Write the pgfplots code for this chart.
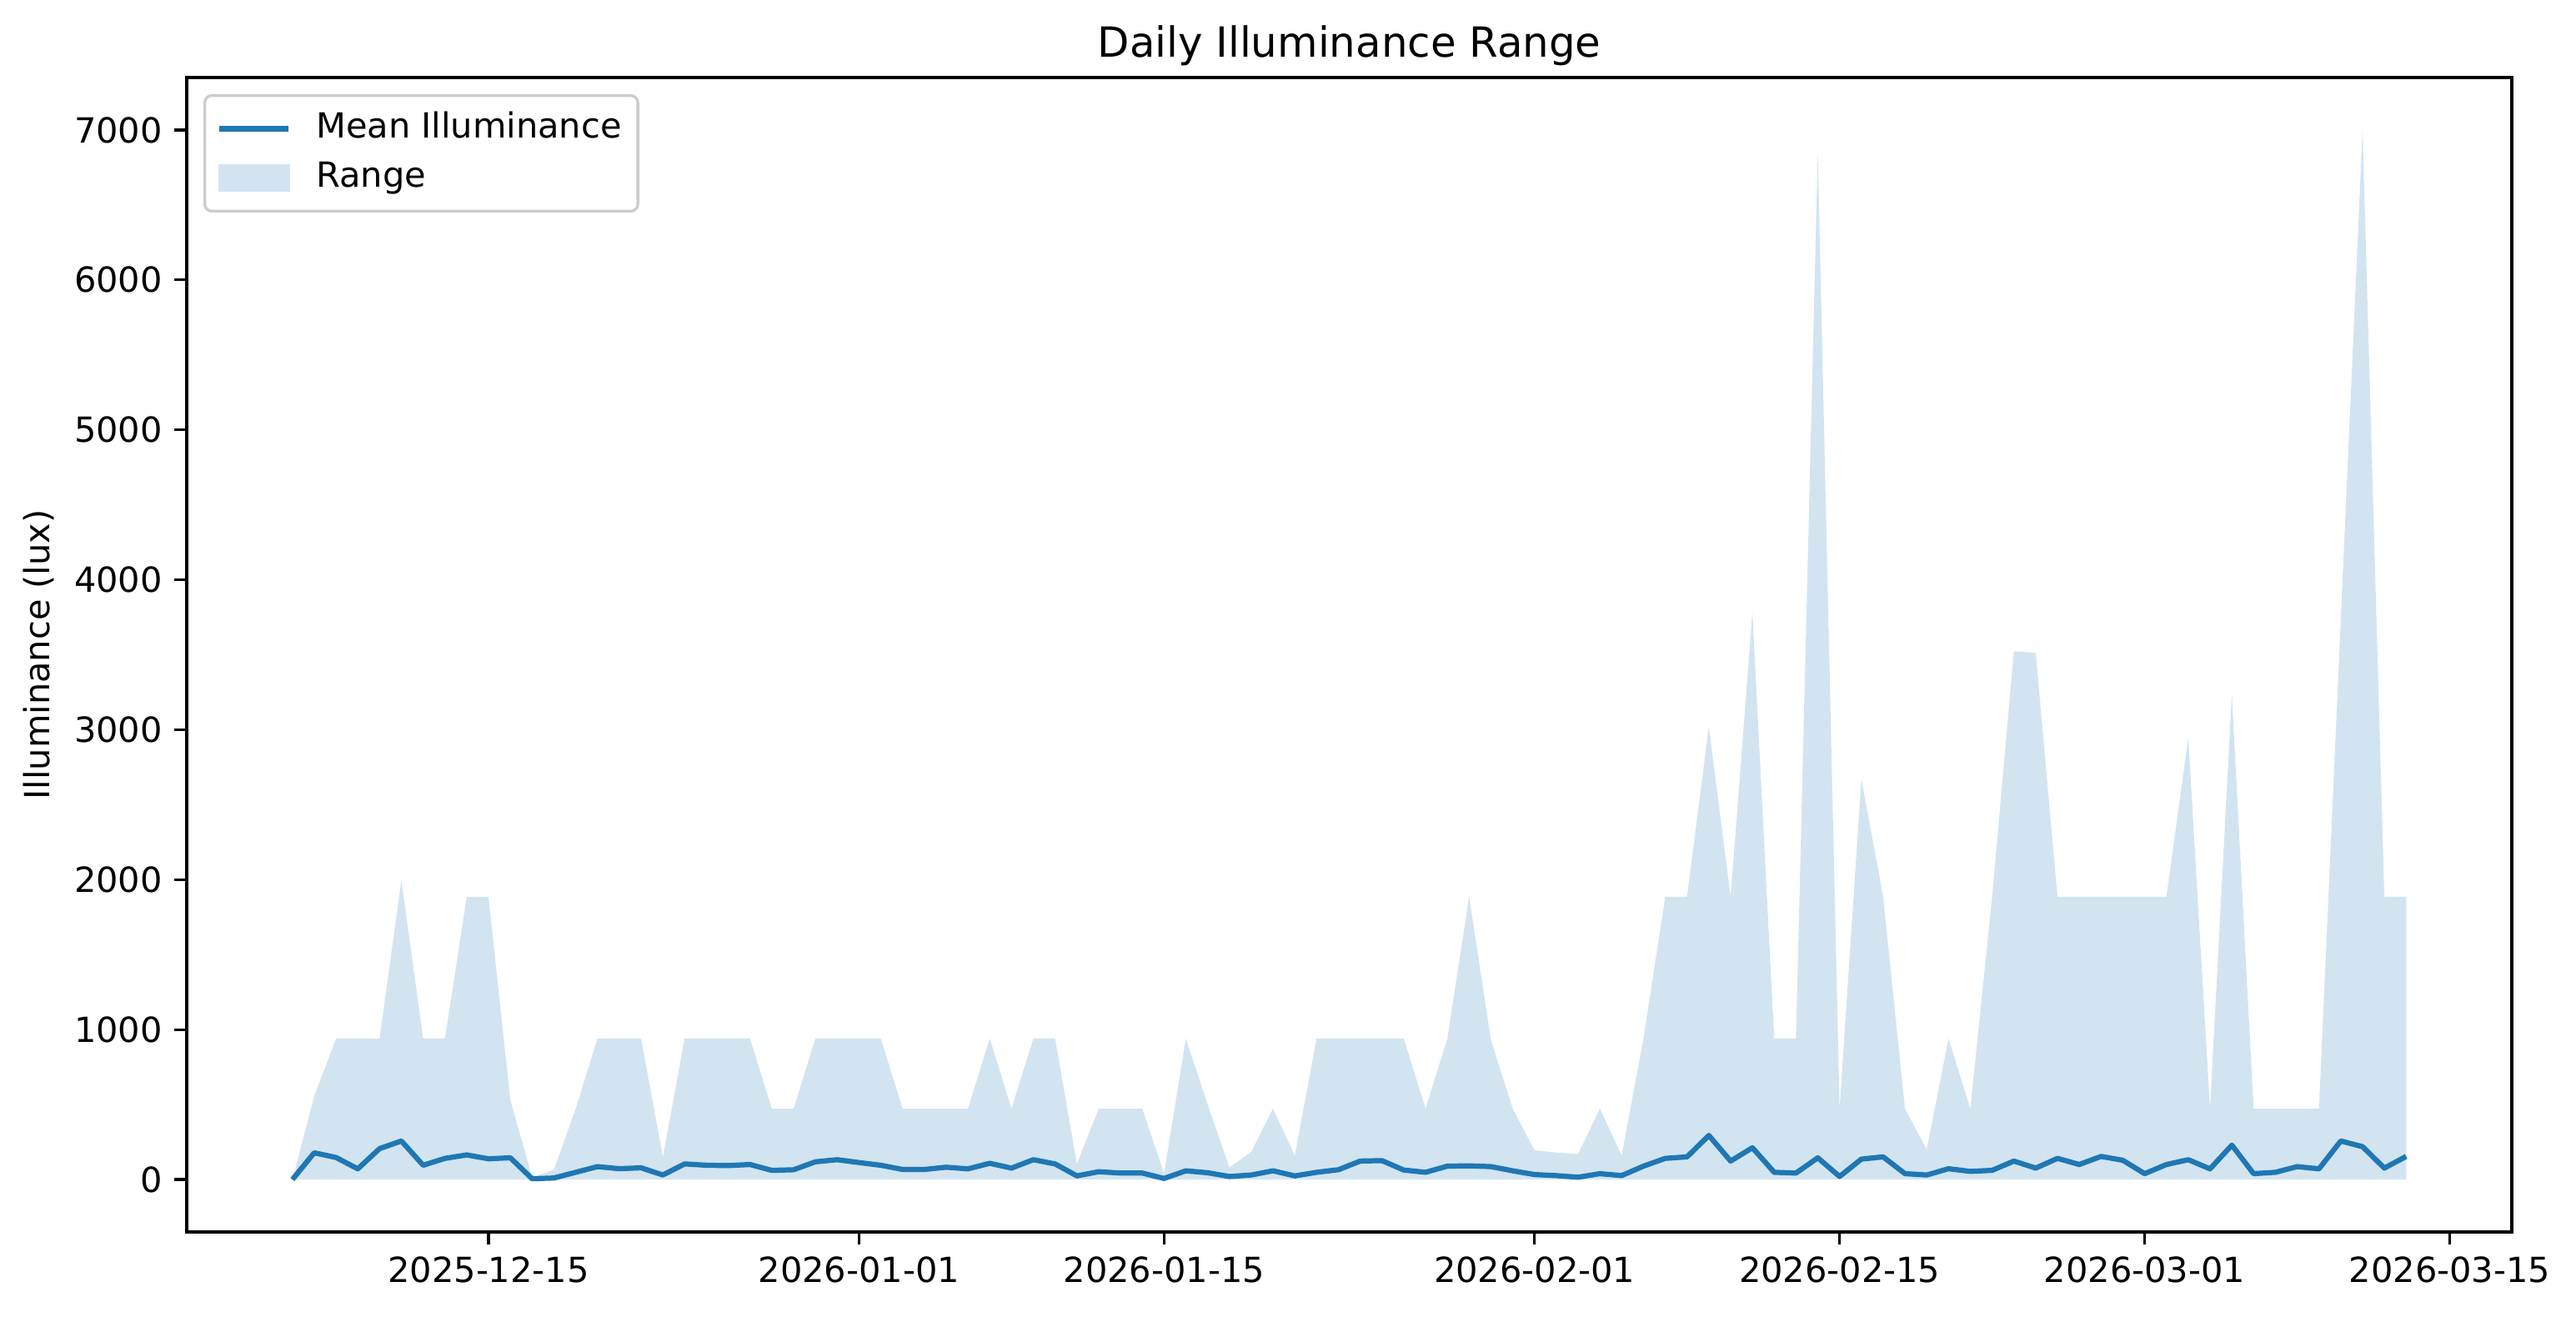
\documentclass[border=0pt]{standalone}
\usepackage{fontspec}
\setmainfont{DejaVu Sans}
\usepackage{pgfplots}
\usepackage{pgfplotstable}
\pgfplotsset{compat=1.18}
\definecolor{tabblue}{HTML}{1F77B4}
\definecolor{rangefill}{RGB}{210,228,240}

\pgfplotstableread{
d max mean
-9 0 0
-8 555 178
-7 940 147
-6 940 71
-5 940 206
-4 1995 257
-3 940 95
-2 940 141
-1 1885 164
0 1885 138
1 530 145
2 15 5
3 65 10
4 472 48
5 940 86
6 940 72
7 940 78
8 150 30
9 940 104
10 940 95
11 940 93
12 940 100
13 472 61
14 472 65
15 940 118
16 940 132
17 940 113
18 940 95
19 472 67
20 472 67
21 472 82
22 472 71
23 940 108
24 472 76
25 940 132
26 940 104
27 105 24
28 472 52
29 472 43
30 472 43
31 40 7
32 940 58
33 500 45
34 80 20
35 185 30
36 472 58
37 160 24
38 940 48
39 940 65
40 940 123
41 940 126
42 940 63
43 472 48
44 940 89
45 1885 91
46 930 86
47 472 58
48 195 33
49 180 26
50 170 15
51 472 39
52 160 26
53 940 89
54 1885 141
55 1885 151
56 3020 294
57 1885 123
58 3780 212
59 940 48
60 940 43
61 6840 145
62 472 20
63 2670 136
64 1885 151
65 472 39
66 200 30
67 940 72
68 472 54
69 1885 61
70 3523 123
71 3513 76
72 1885 141
73 1885 100
74 1885 154
75 1885 128
76 1885 39
77 1885 100
78 2948 132
79 472 71
80 3235 229
81 472 39
82 472 48
83 472 86
84 472 71
85 3730 257
86 7000 219
87 1885 76
88 1885 154
}\data

\begin{document}
\begin{tikzpicture}
\begin{axis}[
  at={(0,0)}, anchor=south west,
  scale only axis, width=669.36bp, height=332.4bp,
  xmin=-13.85, xmax=92.85, ymin=-350, ymax=7350,
  xtick={0,17,31,48,62,76,90},
  xticklabels={2025-12-15,2026-01-01,2026-01-15,2026-02-01,2026-02-15,2026-03-01,2026-03-15},
  ytick={0,1000,2000,3000,4000,5000,6000,7000},
  yticklabels={0,1000,2000,3000,4000,5000,6000,7000},
  tick pos=left,
  tick align=outside, major tick length=3.5pt,
  tick style={black, line width=0.8pt},
  axis line style={line width=0.8pt},
  ticklabel style={font=\fontsize{10}{12}\selectfont},
  /pgf/number format/assume math mode=true,
  title={Daily Illuminance Range},
  title style={font=\fontsize{12}{14}\selectfont, at={(axis description cs:0.5,1)}, anchor=base},
  ylabel={Illuminance (lux)},
  ylabel style={font=\fontsize{10}{12}\selectfont, at={(axis description cs:-0.0635,0.5)}, anchor=center},
  legend cell align=left,
  legend style={at={(0,1)}, anchor=north west, xshift=4.8bp, yshift=-4.8bp,
    draw=black!20, line width=0.8pt, rounded corners=2pt, fill=white,
    inner xsep=3.5pt, inner ysep=3.5pt, row sep=2pt,
    font=\fontsize{10}{12}\selectfont,
    nodes={inner sep=1.2pt, text height=7.6pt, text depth=2.2pt}},
]
\addplot[draw=none, fill=rangefill, forget plot] table[x=d, y=max]{\data} \closedcycle;
\addplot[tabblue, line width=1.5pt, line join=round,
  legend image code/.code={\draw[tabblue, line width=1.5pt, sharp corners] (0pt,0pt) -- (20pt,0pt); \path (26pt,0pt);}]
  table[x=d, y=mean]{\data};
\addlegendentry{Mean Illuminance}
\addlegendimage{legend image code/.code={\fill[rangefill, sharp corners] (0pt,-3.5pt) rectangle (20pt,3.5pt); \path (26pt,0pt);}}
\addlegendentry{Range}
\end{axis}
\pgfresetboundingbox
\useasboundingbox (-53.76bp,-24.48bp) rectangle (687.84bp,354.72bp);
\end{tikzpicture}
\end{document}
